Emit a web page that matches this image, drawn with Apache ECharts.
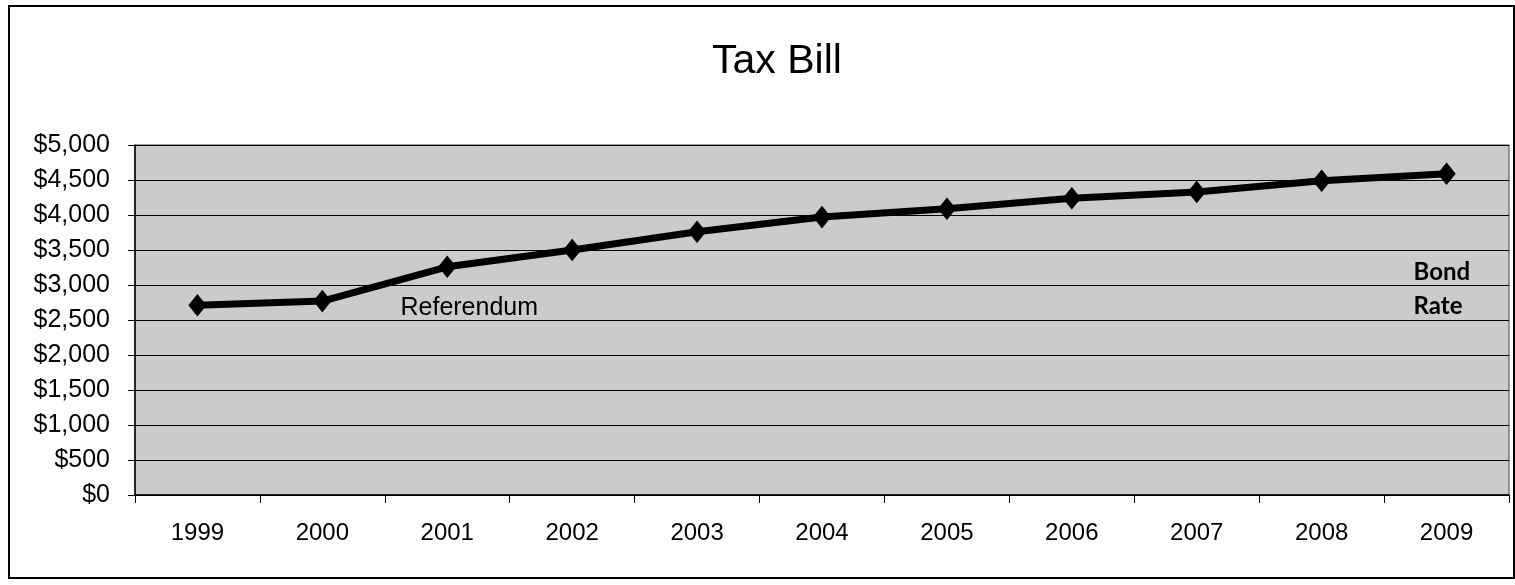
<!DOCTYPE html>
<html>
<head>
<meta charset="utf-8">
<title>Tax Bill</title>
<script src="https://cdn.jsdelivr.net/npm/echarts@6/dist/echarts.min.js"></script>
<style>
  html, body { margin: 0; padding: 0; background: #ffffff; }
  #chart { width: 1515px; height: 585px; }
</style>
</head>
<body>
<div id="chart"></div>
<script>
// Annual tax bill, 1999-2009
const years = ['1999', '2000', '2001', '2002', '2003', '2004', '2005', '2006', '2007', '2008', '2009'];
const taxBill = [2710, 2770, 3260, 3500, 3760, 3970, 4090, 4240, 4330, 4490, 4590];

// Notes attached to individual years
const notes = {
  '2001': 'Referendum',
  '2009': 'Bond\nRate'
};

const FONT = '"Liberation Sans", Arial, sans-serif';

const chart = echarts.init(document.getElementById('chart'), null, { renderer: 'canvas' });

const seriesData = taxBill.map(function (v, i) {
  const item = { value: v };
  const note = notes[years[i]];
  if (note === 'Referendum') {
    item.label = {
      show: true,
      formatter: note,
      position: 'inside',
      align: 'center',
      verticalAlign: 'middle',
      offset: [22, 41],
      fontFamily: FONT,
      fontSize: 25,
      color: '#000'
    };
  } else if (note) {
    item.label = {
      show: true,
      formatter: note,
      position: 'inside',
      align: 'left',
      verticalAlign: 'middle',
      offset: [-33, 116],
      fontFamily: 'Lato, "Open Sans", sans-serif',
      fontWeight: 'bold',
      fontSize: 24,
      lineHeight: 34,
      color: '#000'
    };
  }
  return item;
});

chart.setOption({
  backgroundColor: '#ffffff',
  animation: false,
  title: {
    text: 'Tax Bill',
    left: 772,
    top: 36,
    textAlign: 'center',
    textStyle: { fontFamily: FONT, fontSize: 41, fontWeight: 'normal', color: '#000' }
  },
  graphic: [{
    type: 'rect',
    shape: { x: 9, y: 6, width: 1505, height: 572 },
    style: { fill: 'none', stroke: '#000', lineWidth: 2 },
    silent: true
  }],
  grid: {
    left: 135,
    right: 6,
    top: 145,
    bottom: 90,
    show: true,
    backgroundColor: '#cbcbcb',
    borderColor: '#444',
    borderWidth: 1
  },
  xAxis: {
    type: 'category',
    data: years,
    boundaryGap: true,
    axisLine: { show: true, lineStyle: { color: '#000', width: 1.5 } },
    axisTick: { show: true, length: 8, lineStyle: { color: '#000', width: 1 } },
    axisLabel: { margin: 26, fontFamily: FONT, fontSize: 24, color: '#000' },
    splitLine: { show: false }
  },
  yAxis: {
    type: 'value',
    min: 0,
    max: 5000,
    interval: 500,
    axisLine: { show: true, lineStyle: { color: '#000', width: 1.5 } },
    axisTick: { show: true, length: 7, lineStyle: { color: '#000', width: 1 } },
    axisLabel: {
      margin: 25,
      fontFamily: FONT,
      fontSize: 25,
      color: '#000',
      formatter: function (v) { return '$' + v.toLocaleString('en-US'); }
    },
    splitLine: { show: true, lineStyle: { color: '#000', width: 1.2 } }
  },
  series: [{
    type: 'line',
    data: seriesData,
    symbol: 'diamond',
    symbolSize: [17, 21],
    showAllSymbol: true,
    lineStyle: { color: '#000', width: 7 },
    itemStyle: { color: '#000', borderColor: '#000' },
    label: { show: false },
    emphasis: { disabled: true },
    z: 3
  }]
});
</script>
</body>
</html>
